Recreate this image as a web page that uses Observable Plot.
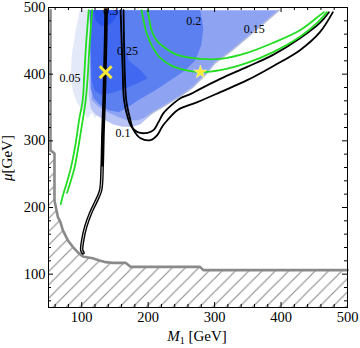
<!DOCTYPE html>
<html><head><meta charset="utf-8">
<script src="https://cdn.jsdelivr.net/npm/d3@7"></script>
<script src="https://cdn.jsdelivr.net/npm/@observablehq/plot@0.6"></script>
<style>body{margin:0;background:#fff}</style>
</head><body><div id="chart"></div>
<script>
// ---- data (M1 [GeV], mu [GeV]) ----
const excludedBoundary = [[53,496],[53,286],[59,281],[59,211],[64,186],[68,178],[71.5,166],[79,151],[86.5,141],[94,133],[98.5,129],[103,126],[116.5,124],[125.5,121],[136,118],[146.5,117],[166,117],[173.5,111],[196,111],[278,111],[283,106],[500,106]];

const level005 = [[97,496],[91,466],[85,429],[83.5,399],[86.5,376],[92.5,358],[101.5,345],[109,334],[115,342],[121,334],[128.5,361],[128.5,496]];
const level010 = [[286,399],[268,381],[248.5,367],[233.5,358],[218.5,349],[208,342],[197.5,333],[188.5,325],[176.5,321],[161.5,321],[146.5,325],[131.5,333],[121,339],[113.5,349],[110.5,369],[112,421],[203.5,421]];
const level015 = [[397,496],[376,478],[353.5,459],[326.5,436],[301,417],[286,399],[268,381],[248.5,367],[233.5,358],[218.5,349],[208,343],[197.5,336],[185.5,331],[169,331],[154,336],[139,343],[125.5,351],[115,361],[112,496]];
const level020 = [[278.5,496],[283,469],[280,444],[271,421],[256,406],[233.5,391],[211,376],[188.5,363],[170.5,351],[155.5,343],[140.5,346],[127,354],[118,364],[113.5,379],[112,496]];
const level025 = [[112,496],[113.5,436],[115,391],[119.5,376],[128.5,369],[146.5,372],[166,379],[185.5,387],[199,394],[188.5,406],[170.5,421],[164.5,451],[161.5,496]];
const level030 = [[118,496],[121,481],[130,472],[142,474],[151,484],[155.5,496]];

const contourLabels = ["0.05","0.1","0.15","0.2","0.25","0.3"];
const labelM1 = [82.5,162,359.5,268.5,169,143.5];
const labelMu = [394,311,467,480,435,494];

const blackLeft = [[136.7,496],[136,451],[135,411],[133.7,361],[132,312],[130.7,261],[128.5,226],[122.5,211],[113.5,192],[106,171],[101.5,151],[100,136],[102,132]];
const blackUOuter = [[158.5,496],[160,451],[161.5,411],[163.7,361],[169,336],[175,321],[184,313],[199,312],[208,316],[215.5,328],[223,341.5],[238,356],[248.5,364],[263.5,370],[278.5,378],[308.5,393],[349,411],[388,429],[428.5,454],[458.5,477],[472,493]];
const blackUInner = [[163,496],[164.5,411],[167,361],[172,336],[178,316],[188.5,304],[203.5,301],[214,309],[221.5,322],[229,331],[244,346],[274,358],[308.5,373],[349,391],[388,412],[428.5,436],[458.5,463],[478,493]];

const greenLeftA = [[110.5,496],[106.7,447],[103.7,396],[101.5,361],[96,331],[91,297],[84,261],[77.5,237],[72,219],[68.5,205]];
const greenLeftB = [[115.7,496],[112,447],[109,396],[106,361],[101.5,331],[96,297],[89.5,261],[82.7,237],[78,222]];
const greenUInner = [[199,496],[202,481],[205,466],[212.5,451],[226,439],[244,429],[278.5,423],[308.5,423],[349,432],[388,447],[428.5,466],[455.5,486],[464.5,493]];
const greenUOuter = [[190,496],[193,481],[197.5,462],[206.5,441],[218.5,424],[236.5,412],[256,406],[278.5,403],[308.5,406],[349,417],[388,433],[428.5,456],[455.5,478],[469,493]];

const crossPoint = [[136,403]];
const starPoint = [[278.5,403]];

const majorTicks = [100,200,300,400,500];
const minorTicks = [60,80,120,140,160,180,220,240,260,280,320,340,360,380,420,440,460,480];

// ---- derived tables ----
const excludedRegion = [[50,496], ...excludedBoundary, [500,50], [50,50]];
const sawEdge = level015.slice(0, 12);
const blackLeftCore = blackLeft.slice(5);
const labels = contourLabels.map((t, i) => ({t, x: labelM1[i], y: labelMu[i]}));

const xy = {x: d => d[0], y: d => d[1]};
const innerW = 299, innerH = 300;
const poly = (data, fill) => Plot.line(data, {...xy, fill, stroke: "none"});

const plot = Plot.plot({
  width: 360, height: 348,
  marginLeft: 48, marginRight: 13, marginTop: 7, marginBottom: 41,
  x: {domain: [50, 500]},
  y: {domain: [50, 500]},
  style: {fontFamily: "'Liberation Serif', serif", fontSize: "14.5px", background: "white", color: "black"},
  marks: [
    poly(excludedRegion, "url(#hatch)"),
    poly(level005, "#e4e9fa"),
    poly(level010, "#b7c4f5"),
    poly(level015, "#8ea4f3"),
    poly(level020, "#5d80f1"),
    poly(level025, "#4068f0"),
    poly(level030, "#2c57ee"),
    Plot.line(sawEdge, {...xy, stroke: "#b3bbdb", strokeWidth: 1.5}),
    Plot.line(excludedBoundary, {...xy, stroke: "#8a8a8a", strokeWidth: 2.6}),
    Plot.text(labels, {x: "x", y: "y", text: "t", fontSize: 12}),
    Plot.line(blackLeft, {...xy, stroke: "black", strokeWidth: 3.6, curve: "catmull-rom"}),
    Plot.line(blackLeftCore, {...xy, stroke: "white", strokeWidth: 0.8, curve: "catmull-rom"}),
    Plot.line(blackUOuter, {...xy, stroke: "black", strokeWidth: 1.8, curve: "catmull-rom"}),
    Plot.line(blackUInner, {...xy, stroke: "black", strokeWidth: 1.8, curve: "catmull-rom"}),
    Plot.line(greenLeftA, {...xy, stroke: "#22dd22", strokeWidth: 1.8, curve: "catmull-rom"}),
    Plot.line(greenLeftB, {...xy, stroke: "#22dd22", strokeWidth: 1.8, curve: "catmull-rom"}),
    Plot.line(greenUInner, {...xy, stroke: "#22dd22", strokeWidth: 1.8, curve: "catmull-rom"}),
    Plot.line(greenUOuter, {...xy, stroke: "#22dd22", strokeWidth: 1.8, curve: "catmull-rom"}),
    Plot.dot(crossPoint, {...xy, symbol: "times", stroke: "#f7e83a", strokeWidth: 3, r: 5.5}),
    Plot.dot(starPoint, {...xy, symbol: "star", fill: "#fbec34", stroke: "#fff7a0", strokeWidth: 0.6, r: 4.2}),
    Plot.frame({stroke: "black", strokeWidth: 1}),
    // inward ticks on all four sides
    Plot.ruleX(majorTicks, {x: d => d, insetTop: innerH - 5, stroke: "black"}),
    Plot.ruleX(minorTicks, {x: d => d, insetTop: innerH - 3, stroke: "black"}),
    Plot.ruleX(majorTicks, {x: d => d, insetBottom: innerH - 5, stroke: "black"}),
    Plot.ruleX(minorTicks, {x: d => d, insetBottom: innerH - 3, stroke: "black"}),
    Plot.ruleY(majorTicks, {y: d => d, insetRight: innerW - 5, stroke: "black"}),
    Plot.ruleY(minorTicks, {y: d => d, insetRight: innerW - 3, stroke: "black"}),
    Plot.ruleY(majorTicks, {y: d => d, insetLeft: innerW - 5, stroke: "black"}),
    Plot.ruleY(minorTicks, {y: d => d, insetLeft: innerW - 3, stroke: "black"}),
    Plot.axisX(majorTicks, {anchor: "bottom", tickSize: 0, tickPadding: 4, label: null}),
    Plot.axisY(majorTicks, {anchor: "left", tickSize: 0, tickPadding: 3, label: null})
  ]
});

const svg = d3.select(plot);
const pat = svg.insert("defs", ":first-child").append("pattern")
  .attr("id", "hatch").attr("patternUnits", "userSpaceOnUse")
  .attr("width", 13.3).attr("height", 13.3);
pat.append("rect").attr("width", 13.3).attr("height", 13.3).attr("fill", "white");
pat.append("path").attr("d", "M-2,2 L2,-2 M0,13.3 L13.3,0 M11.3,15.3 L15.3,11.3")
  .attr("stroke", "#8a8a8a").attr("stroke-width", 1.1).attr("fill", "none");

const yl = svg.append("text").attr("transform", "translate(11.5,158) rotate(-90)")
  .attr("text-anchor", "middle").style("font-size", "15px");
yl.append("tspan").attr("font-style", "italic").text("μ");
yl.append("tspan").text("[GeV]");

const xl = svg.append("text").attr("x", 197).attr("y", 341)
  .attr("text-anchor", "middle").style("font-size", "15px");
xl.append("tspan").attr("font-style", "italic").text("M");
xl.append("tspan").attr("font-size", "10px").attr("dy", 3).text("1");
xl.append("tspan").attr("dy", -3).text(" [GeV]");

document.getElementById("chart").appendChild(plot);
</script>
</body></html>
